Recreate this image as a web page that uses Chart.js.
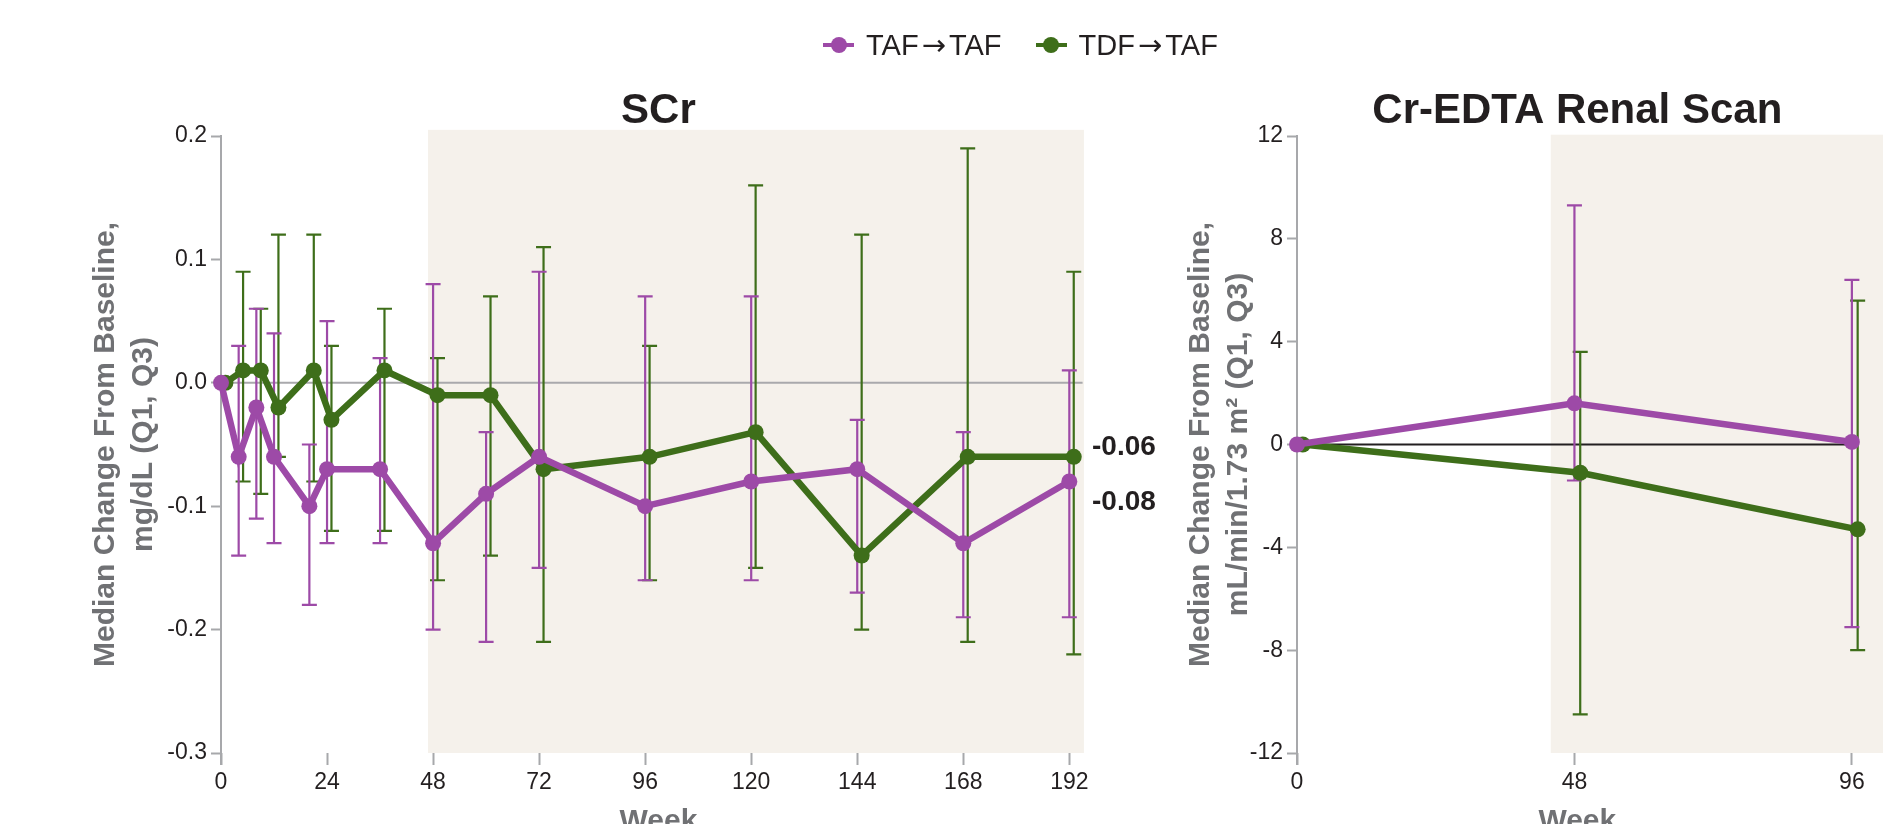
<!DOCTYPE html>
<html>
<head>
<meta charset="utf-8">
<title>SCr and Cr-EDTA Renal Scan</title>
<script src="https://cdn.jsdelivr.net/npm/chart.js@4.4.1/dist/chart.umd.min.js"></script>
<style>
  html, body { margin: 0; padding: 0; background: #fff; }
  body { width: 1883px; height: 824px; position: relative; overflow: hidden;
         font-family: 'Liberation Sans', Arial, sans-serif; }
  canvas { position: absolute; top: 0; }
  #legend { position: absolute; left: 823px; top: 27px; height: 36px; z-index: 2;
            display: flex; align-items: center; font-size: 29px; color: #231f20; }
  .item { display: flex; align-items: center; margin-right: 34px; }
  .mk { position: relative; width: 31px; height: 4px; margin-right: 12px; }
  .mk i { position: absolute; left: 7.5px; top: -6px; width: 16px; height: 16px; border-radius: 50%; }
  .arr { font-family: 'DejaVu Sans', sans-serif; font-size: 29px; margin: 0 3px; }
</style>
</head>
<body>
<div id="legend"></div>
<canvas id="scrChart" width="1180" height="824" style="left:0"></canvas>
<canvas id="renalChart" width="788" height="824" style="left:1095px"></canvas>
<script>
// series
const seriesNames = ['TAF\u2192TAF', 'TDF\u2192TAF'];
const seriesColors = ['#9d4aa7', '#3e6e1a'];

// SCr, mg/dL
const scrWeeks = [0, 4, 8, 12, 20, 24, 36, 48, 60, 72, 96, 120, 144, 168, 192];
const tafScr   = [0, -0.06, -0.02, -0.06, -0.10, -0.07, -0.07, -0.13, -0.09, -0.06, -0.10, -0.08, -0.07, -0.13, -0.08];
const tafScrQ1 = [null, -0.14, -0.11, -0.13, -0.18, -0.13, -0.13, -0.20, -0.21, -0.15, -0.16, -0.16, -0.17, -0.19, -0.19];
const tafScrQ3 = [null, 0.03, 0.06, 0.04, -0.05, 0.05, 0.02, 0.08, -0.04, 0.09, 0.07, 0.07, -0.03, -0.04, 0.01];
const tdfScr   = [0, 0.01, 0.01, -0.02, 0.01, -0.03, 0.01, -0.01, -0.01, -0.07, -0.06, -0.04, -0.14, -0.06, -0.06];
const tdfScrQ1 = [null, -0.08, -0.09, -0.06, -0.08, -0.12, -0.12, -0.16, -0.14, -0.21, -0.16, -0.15, -0.20, -0.21, -0.22];
const tdfScrQ3 = [null, 0.09, 0.06, 0.12, 0.12, 0.03, 0.06, 0.02, 0.07, 0.11, 0.03, 0.16, 0.12, 0.19, 0.09];
const scrXTicks = [0, 24, 48, 72, 96, 120, 144, 168, 192];
const scrYTicks = [-0.3, -0.2, -0.1, 0, 0.1, 0.2];
const scrYLabels = ['-0.3', '-0.2', '-0.1', '0.0', '0.1', '0.2'];

// Cr-EDTA renal scan, mL/min/1.73 m2
const renalWeeks = [0, 48, 96];
const tafRenal   = [0, 1.6, 0.1];
const tafRenalQ1 = [null, -1.4, -7.1];
const tafRenalQ3 = [null, 9.3, 6.4];
const tdfRenal   = [0, -1.1, -3.3];
const tdfRenalQ1 = [null, -10.5, -8.0];
const tdfRenalQ3 = [null, 3.6, 5.6];
const renalXTicks = [0, 48, 96];
const renalYTicks = [-12, -8, -4, 0, 4, 8, 12];
const renalYLabels = ['-12', '-8', '-4', '0', '4', '8', '12'];

const FONT = "'Liberation Sans', Arial, sans-serif";
const AXIS_GRAY = '#a7a8ab';
const INK = '#231f20';
const TITLE_GRAY = '#707174';
const DODGE = [0, 1]; // green drawn 1 week to the right, like the original

Chart.defaults.font.family = FONT;

// legend (html)
const legendEl = document.getElementById('legend');
seriesNames.forEach((name, i) => {
    const item = document.createElement('span');
    item.className = 'item';
    const parts = name.split('\u2192');
    item.innerHTML = '<span class="mk" style="background:' + seriesColors[i] + '"><i style="background:' +
        seriesColors[i] + '"></i></span><span>' + parts[0] + '<span class="arr">\u2192</span>' + parts[1] + '</span>';
    legendEl.appendChild(item);
});

// shading, zero line, error bars, titles, end labels
const decor = {
    id: 'decor',
    beforeDraw(chart, args, o) {
        const { ctx, scales: { x, y } } = chart;
        const x0 = x.getPixelForValue(o.shade[0]), x1 = x.getPixelForValue(o.shade[1]);
        const y0 = y.getPixelForValue(o.shade[3]), y1 = y.getPixelForValue(o.shade[2]);
        ctx.save();
        ctx.fillStyle = '#f5f1eb';
        ctx.fillRect(x0, y0, x1 - x0, y1 - y0);
        ctx.restore();
    },
    beforeDatasetsDraw(chart, args, o) {
        const { ctx, scales: { x, y } } = chart;
        ctx.save();
        ctx.strokeStyle = o.zeroColor;
        ctx.lineWidth = o.zeroWidth;
        ctx.beginPath();
        ctx.moveTo(x.getPixelForValue(0), y.getPixelForValue(0));
        ctx.lineTo(x.getPixelForValue(o.zeroEnd), y.getPixelForValue(0));
        ctx.stroke();

        ctx.lineWidth = 2.2;
        for (let d = chart.data.datasets.length - 1; d >= 0; d--) {
            const ds = chart.data.datasets[d];
            const meta = chart.getDatasetMeta(d);
            ctx.strokeStyle = ds.borderColor;
            meta.data.forEach((pt, j) => {
                if (ds.q1[j] == null) return;
                const lo = y.getPixelForValue(ds.q1[j]);
                const hi = y.getPixelForValue(ds.q3[j]);
                ctx.beginPath();
                ctx.moveTo(pt.x, lo); ctx.lineTo(pt.x, hi);
                ctx.moveTo(pt.x - 7.5, lo); ctx.lineTo(pt.x + 7.5, lo);
                ctx.moveTo(pt.x - 7.5, hi); ctx.lineTo(pt.x + 7.5, hi);
                ctx.stroke();
            });
        }
        ctx.restore();
    },
    afterDraw(chart, args, o) {
        const { ctx, chartArea, scales: { x, y } } = chart;
        const cx = x.getPixelForValue(o.titleCenter);
        ctx.save();
        // y axis line runs down past the plot
        ctx.strokeStyle = AXIS_GRAY;
        ctx.lineWidth = 2;
        ctx.beginPath();
        ctx.moveTo(chartArea.left, chartArea.bottom);
        ctx.lineTo(chartArea.left, chartArea.bottom + 12);
        ctx.stroke();

        ctx.textAlign = 'center';
        ctx.textBaseline = 'alphabetic';
        ctx.fillStyle = INK;
        ctx.font = 'bold 42px ' + FONT;
        ctx.fillText(o.title, cx, chartArea.top - 13);

        ctx.fillStyle = TITLE_GRAY;
        ctx.font = 'bold 30px ' + FONT;
        ctx.fillText('Week', cx, chartArea.bottom + 77);

        if (o.endLabels) {
            ctx.textAlign = 'left';
            ctx.textBaseline = 'middle';
            ctx.fillStyle = INK;
            ctx.font = 'bold 28px ' + FONT;
            o.endLabels.forEach(l => {
                const vals = chart.data.datasets[l.ds].data;
                const v = vals[vals.length - 1].y;
                ctx.fillText(v.toFixed(2), chartArea.right + 5, y.getPixelForValue(v) + l.dy);
            });
        }
        ctx.restore();
    }
};

function makeDataset(i, weeks, med, q1, q3) {
    return {
        label: seriesNames[i],
        data: weeks.map((w, j) => ({ x: w + DODGE[i], y: med[j] })),
        q1: q1,
        q3: q3,
        borderColor: seriesColors[i],
        backgroundColor: seriesColors[i],
        borderWidth: 6.5,
        pointRadius: 8,
        pointBorderWidth: 0,
        pointBackgroundColor: seriesColors[i],
        tension: 0,
        clip: false
    };
}

function makeChart(id, cfg) {
    return new Chart(document.getElementById(id), {
        type: 'line',
        data: { datasets: cfg.datasets },
        plugins: [decor],
        options: {
            responsive: false,
            animation: false,
            events: [],
            layout: { padding: { top: 136, right: cfg.padRight, bottom: 0, left: 0 } },
            plugins: {
                legend: { display: false },
                tooltip: { enabled: false },
                decor: cfg.decor
            },
            scales: {
                x: {
                    type: 'linear', min: 0, max: cfg.xMax,
                    afterBuildTicks: s => { s.ticks = cfg.xTicks.map(v => ({ value: v })); },
                    afterFit: s => { s.height = 71; },
                    ticks: { font: { size: 23 }, color: INK, padding: 4, autoSkip: false, maxRotation: 0,
                             callback: v => String(v) },
                    grid: { drawOnChartArea: false, tickLength: 12, tickColor: AXIS_GRAY, tickWidth: 2 },
                    border: { display: false }
                },
                y: {
                    type: 'linear', min: cfg.yTicks[0], max: cfg.yTicks[cfg.yTicks.length - 1],
                    afterBuildTicks: s => { s.ticks = cfg.yTicks.map(v => ({ value: v })); },
                    afterFit: s => { s.width = cfg.yWidth; },
                    ticks: { font: { size: 23 }, color: INK, padding: 4, autoSkip: false,
                             callback: (v, i) => cfg.yLabels[i] },
                    grid: { drawOnChartArea: false, tickLength: 10, tickColor: AXIS_GRAY, tickWidth: 2 },
                    border: { display: true, color: AXIS_GRAY, width: 2 },
                    title: {
                        display: true, text: cfg.yTitle, color: TITLE_GRAY,
                        font: { size: 30, weight: 'bold', lineHeight: 1.27 },
                        padding: { top: 87, bottom: 0 }
                    }
                }
            }
        }
    });
}

makeChart('scrChart', {
    datasets: [
        makeDataset(0, scrWeeks, tafScr, tafScrQ1, tafScrQ3),
        makeDataset(1, scrWeeks, tdfScr, tdfScrQ1, tdfScrQ3)
    ],
    xMax: 196, xTicks: scrXTicks, yTicks: scrYTicks, yLabels: scrYLabels,
    yWidth: 221, padRight: 93,
    yTitle: ['Median Change From Baseline,', 'mg/dL (Q1, Q3)'],
    decor: {
        title: 'SCr', titleCenter: 99,
        shade: [46.85, 195.3, -0.3, 0.205],
        zeroColor: '#a9a9ac', zeroWidth: 2, zeroEnd: 195,
        endLabels: [{ ds: 1, dy: -10 }, { ds: 0, dy: 21 }]
    }
});

makeChart('renalChart', {
    datasets: [
        makeDataset(0, renalWeeks, tafRenal, tafRenalQ1, tafRenalQ3),
        makeDataset(1, renalWeeks, tdfRenal, tdfRenalQ1, tdfRenalQ3)
    ],
    xMax: 100, xTicks: renalXTicks, yTicks: renalYTicks, yLabels: renalYLabels,
    yWidth: 202, padRight: 0,
    yTitle: ['Median Change From Baseline,', 'mL/min/1.73 m\u00b2 (Q1, Q3)'],
    decor: {
        title: 'Cr-EDTA Renal Scan', titleCenter: 48.5,
        shade: [43.9, 110, -12, 12.05],
        zeroColor: INK, zeroWidth: 1.8, zeroEnd: 96
    }
});
</script>
</body>
</html>
